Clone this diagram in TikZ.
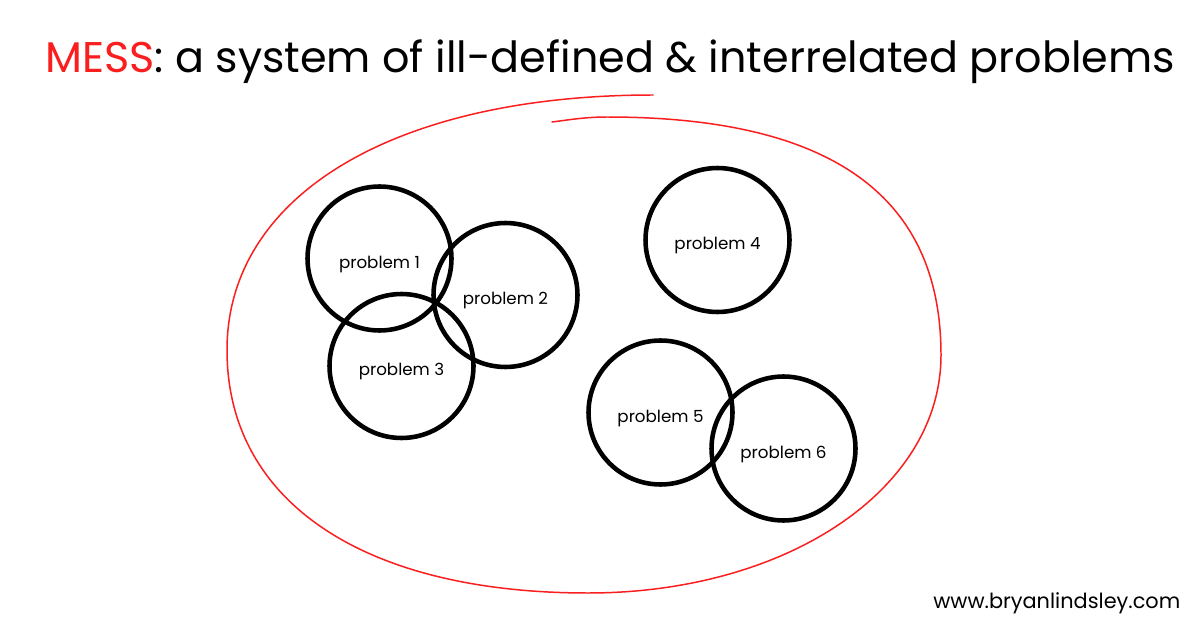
\documentclass[tikz,border=0pt]{standalone}
\usepackage{fontspec}
\usepackage{graphicx}
\setmainfont{Poppins}
\definecolor{messred}{RGB}{250,30,30}
\begin{document}
\begin{tikzpicture}[x=0.02cm,y=-0.02cm,
  prob/.style={draw=black,line width=2.6pt,circle,minimum size=2.88cm,inner sep=0pt},
  plabel/.style={inner sep=0pt,font=\fontsize{9.5}{11}\selectfont,yshift=-0.11cm},
  mess/.style={draw=messred,line width=0.85pt,line cap=round}]
\useasboundingbox (0,0) rectangle (1200,628);
\fill[white] (0,0) rectangle (1200,628);
% title
\node[anchor=base west,inner sep=0pt] (title) at (45,73)
  {\resizebox{22.6cm}{!}{\fontsize{22}{26}\selectfont\textcolor{messred}{MESS}: a system of ill-defined \& interrelated problems}};
% the mess boundary
\coordinate (s) at (653,95);
\coordinate (l) at (227,350);
\coordinate (b) at (588,593);
\coordinate (r) at (941,355);
\coordinate (t) at (607,117);
\coordinate (e) at (552,122);
\draw[mess] (s) .. controls (395,95) and (227,195) .. (l)
  .. controls (227,502) and (364,593) .. (b)
  .. controls (786,593) and (941,490) .. (r)
  .. controls (941,195) and (830,117) .. (t)
  .. controls (585,117) and (568,120) .. (e);
% problems
\node[prob] (p1) at (379.5,258.5) {};
\node[prob] (p2) at (505.5,295) {};
\node[prob] (p3) at (401.5,366) {};
\node[prob] (p4) at (717.5,240) {};
\node[prob] (p5) at (660.5,412.5) {};
\node[prob] (p6) at (783.5,448.5) {};
\node[plabel] (l1) at (p1.center) {problem 1};
\node[plabel] (l2) at (p2.center) {problem 2};
\node[plabel] (l3) at (p3.center) {problem 3};
\node[plabel] (l4) at (p4.center) {problem 4};
\node[plabel] (l5) at (p5.center) {problem 5};
\node[plabel] (l6) at (p6.center) {problem 6};
% footer
\node[anchor=base west,inner sep=0pt] (url) at (933,608)
  {\resizebox{4.94cm}{!}{\fontsize{10}{12}\selectfont www.bryanlindsley.com}};
\end{tikzpicture}
\end{document}
